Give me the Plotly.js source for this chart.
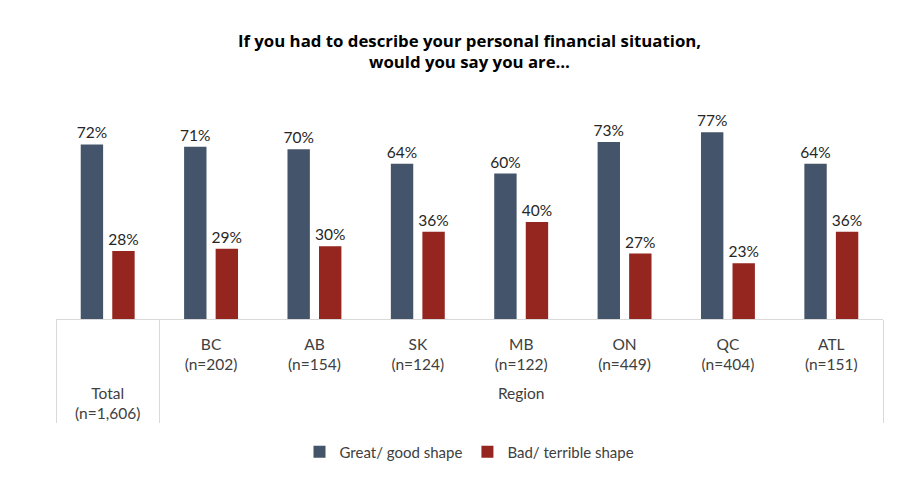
<!DOCTYPE html>
<html>
<head>
<meta charset="utf-8">
<script src="https://cdn.plot.ly/plotly-3.0.1.min.js"></script>
<style>html,body{margin:0;padding:0;background:#fff;}#chart{width:901px;height:478px;}</style>
</head>
<body>
<div id="chart"></div>
<script>
const groupLabels = ["Total<br>(n=1,606)", "Region", "Region", "Region", "Region", "Region", "Region", "Region"];
const regionLabels = [" ", "BC<br>(n=202)", "AB<br>(n=154)", "SK<br>(n=124)", "MB<br>(n=122)", "ON<br>(n=449)", "QC<br>(n=404)", "ATL<br>(n=151)"];
const goodShape = [72, 71, 70, 64, 60, 73, 77, 64];
const badShape = [28, 29, 30, 36, 40, 27, 23, 36];
const seriesNames = ["Great/ good shape", "Bad/ terrible shape"];
const titleText = "If you had to describe your personal financial situation,<br>would you say you are…";

const FONT = "Lato, 'Open Sans', sans-serif";
const TFONT = "'Open Sans', sans-serif";
const FS = 15.5;
// inner labels get a trailing blank line so the outer level sits lower, as in the reference
const xcats = [groupLabels, regionLabels.map(s => s + "<br>\u00a0")];

const traces = [
  {type: 'bar', name: seriesNames[0], x: xcats, y: goodShape,
   marker: {color: '#44546A'}, texttemplate: '%{y}%', textposition: 'outside', constraintext: 'none',
   textfont: {size: FS, color: '#262626', family: FONT}, cliponaxis: false, hoverinfo: 'none'},
  {type: 'bar', name: seriesNames[1], x: xcats, y: badShape,
   marker: {color: '#95261F'}, texttemplate: '%{y}%', textposition: 'outside', constraintext: 'none',
   textfont: {size: FS, color: '#262626', family: FONT}, cliponaxis: false, hoverinfo: 'none'}
];

const layout = {
  width: 901, height: 478,
  margin: {l: 56, r: 18, t: 125, b: 158},
  paper_bgcolor: '#fff', plot_bgcolor: '#fff',
  font: {family: FONT, size: FS, color: '#404040'},
  title: {text: titleText, x: 0.5, xref: 'paper', y: 0.9025, yref: 'container', yanchor: 'middle',
          font: {family: TFONT, size: 16.8, color: '#000', weight: 'bold'}},
  barmode: 'group', bargap: 0.39, bargroupgap: 0.29,
  xaxis: {type: 'multicategory', showline: true, linecolor: '#d9d9d9', linewidth: 1,
          showdividers: true, dividercolor: '#d9d9d9', dividerwidth: 1,
          ticks: '', ticklabelstandoff: 11,
          tickfont: {family: FONT, size: FS, color: '#404040'}, showgrid: false, zeroline: false},
  yaxis: {range: [0, 80], visible: false, showgrid: false, zeroline: false},
  showlegend: true,
  legend: {orientation: 'h', x: 0.5, xanchor: 'center', xref: 'paper', y: -0.677, yanchor: 'middle',
           itemwidth: 30, font: {family: FONT, size: 15, color: '#404040'}, traceorder: 'normal'}
};

Plotly.newPlot('chart', traces, layout, {displayModeBar: false, staticPlot: true});
</script>
</body>
</html>
